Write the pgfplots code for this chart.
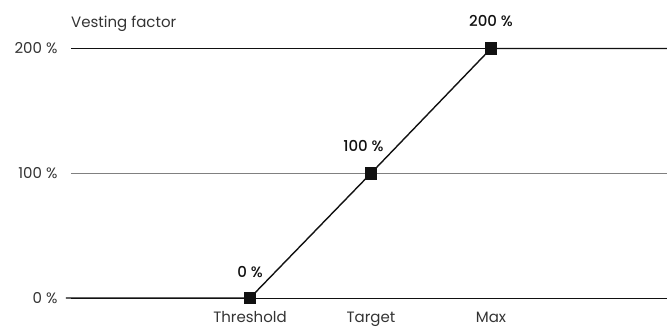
\documentclass[border=0pt]{standalone}
\usepackage{fontspec}
\setmainfont{Poppins}
\newfontfamily\medfont{Poppins}[UprightFont=* Medium]
\usepackage{pgfplots}
\pgfplotsset{compat=1.18}
\definecolor{txt}{HTML}{333333}
\definecolor{ink}{HTML}{111111}
\definecolor{midgrid}{HTML}{808080}
\newcommand\lblfont{\fontsize{15}{18}\selectfont}
\begin{document}
\begin{tikzpicture}[x=1pt,y=1pt]
\begin{axis}[
  scale only axis,
  width=596pt, height=249.5pt,
  xmin=71, xmax=667, ymin=0, ymax=200,
  clip=false,
  axis line style={draw=none},
  tick style={draw=none},
  every tick label/.append style={font=\lblfont, text=txt},
  xtick={250,371,491},
  xticklabels={Threshold, Target, Max},
  xticklabel style={anchor=base, yshift=-24pt, inner sep=0pt},
  ytick={0,200},
  yticklabels={0 \%, 200 \%},
  extra y ticks={100},
  extra y tick labels={100 \%},
  extra y tick style={grid style={midgrid, line width=1pt}},
  yticklabel style={anchor=east, xshift=-10pt},
  ymajorgrids,
  grid style={ink, line width=0.8pt},
]
% vesting curve: flat below threshold, linear to max, capped above
\addplot[ink, line width=1.4pt, mark=square*, mark size=5.6pt,
  mark options={fill=ink, draw=ink},
  mark indices={2,3,4}]
  coordinates {(66,0) (250,0) (371,100) (491,200) (667,200)};
\node[anchor=base, inner sep=0pt, font=\medfont\lblfont, ink] at (axis cs:250,0) [yshift=21pt] {0 \%};
\node[anchor=base, inner sep=0pt, font=\medfont\lblfont, ink] at (axis cs:371,100) [yshift=22pt, xshift=-7.5pt] {100 \%};
\node[anchor=base, inner sep=0pt, font=\medfont\lblfont, ink] at (axis cs:491,200) [yshift=22pt] {200 \%};
\node[anchor=base west, inner sep=0pt, font=\lblfont, txt] at (rel axis cs:0,1) [yshift=21pt] {Vesting factor};
\end{axis}
\pgfresetboundingbox
\path[use as bounding box] (-71pt,-29pt) rectangle (596pt,298pt);
\end{tikzpicture}
\end{document}
